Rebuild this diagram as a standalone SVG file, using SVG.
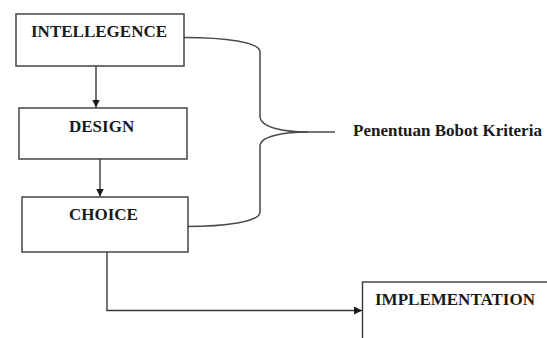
<svg xmlns="http://www.w3.org/2000/svg" width="547" height="338" viewBox="0 0 547 338">
  <style>
    .box { fill: #ffffff; stroke: #3a3a3a; stroke-width: 1.4; }
    .label { font-weight: bold; font-size: 17px; fill: #1a1a1a; }
    .wire { fill: none; stroke: #3a3a3a; stroke-width: 1.4; }
    .brace { fill: none; stroke: #4a4a4a; stroke-width: 1.5; }
  </style>
  <defs>
    <marker id="arrow" viewBox="0 0 10 10" refX="10" refY="5" markerWidth="8" markerHeight="8" markerUnits="userSpaceOnUse" orient="auto">
      <path d="M0,0 L10,5 L0,10 z" fill="#1a1a1a"/>
    </marker>
  </defs>
  <rect width="547" height="338" fill="#ffffff"/>

  <g id="connectors">
    <line class="wire" x1="96" y1="66" x2="96" y2="107.5" marker-end="url(#arrow)"/>
    <line class="wire" x1="100" y1="159" x2="100" y2="196.5" marker-end="url(#arrow)"/>
    <path class="wire" d="M107,252 V310.5 H362" marker-end="url(#arrow)"/>
    <!-- curly brace grouping the three phases -->
    <path class="brace" d="M184,37.5 C225,37.5 260,42 260,52 V116 C260,128 285,132 308,132 H335"/>
    <path class="brace" d="M185,226.5 C225,226.5 260,222 260,212 V146 C260,136 285,132 308,132"/>
  </g>

  <g font-family="'Liberation Serif', 'DejaVu Serif', serif">
    <g id="intellegence">
      <rect class="box" x="16" y="14" width="168" height="52"/>
      <text class="label" x="31" y="37">INTELLEGENCE</text>
    </g>
    <g id="design">
      <rect class="box" x="19" y="108" width="168" height="51"/>
      <text class="label" x="69" y="132">DESIGN</text>
    </g>
    <g id="choice">
      <rect class="box" x="22" y="197" width="166" height="55"/>
      <text class="label" x="69" y="220">CHOICE</text>
    </g>
    <g id="implementation">
      <rect class="box" x="362.5" y="282" width="200" height="80"/>
      <text class="label" x="375" y="305">IMPLEMENTATION</text>
    </g>
    <g id="penentuan-bobot-kriteria">
      <text class="label" x="353" y="136">Penentuan Bobot Kriteria</text>
    </g>
  </g>
</svg>
